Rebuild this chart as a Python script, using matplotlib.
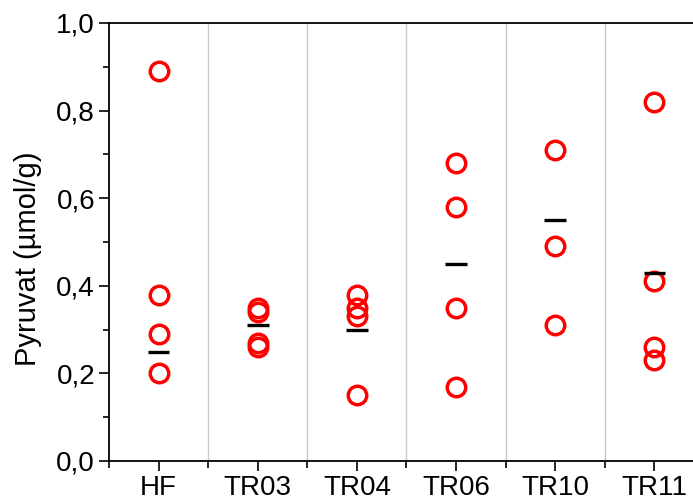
import matplotlib
matplotlib.use("Agg")
import matplotlib.pyplot as plt
from matplotlib.ticker import MultipleLocator, FuncFormatter

plt.rcParams['font.family'] = ['Liberation Sans', 'DejaVu Sans']

groups = ["HF", "TR03", "TR04", "TR06", "TR10", "TR11"]
values = [
    [0.89, 0.38, 0.29, 0.20],
    [0.35, 0.34, 0.27, 0.26],
    [0.38, 0.35, 0.33, 0.15],
    [0.68, 0.58, 0.35, 0.17],
    [0.71, 0.49, 0.31],
    [0.82, 0.41, 0.26, 0.23],
]
centers = [0.25, 0.31, 0.30, 0.45, 0.55, 0.43]

W, H = 693, 501
fig = plt.figure(figsize=(W / 100, H / 100), dpi=100)
left, right, top, bottom = 109, 704, 23, 461
ax = fig.add_axes([left / W, 1 - bottom / H, (right - left) / W, (bottom - top) / H])

n = len(groups)
for i, vals in enumerate(values):
    ax.plot([i] * len(vals), vals, linestyle='none', marker='o', ms=13.3,
            mfc='none', mec='#ff0000', mew=2.5, zorder=3)
ax.hlines(centers, [i - 0.11 for i in range(n)], [i + 0.11 for i in range(n)],
          colors='black', linewidth=2.4, zorder=4)

for b in range(n - 1):
    ax.axvline(b + 0.5, color='#c8c8c8', linewidth=1.0, zorder=1)

ax.set_xlim(-0.5, n - 0.5)
ax.set_ylim(0, 1.0)
ax.set_xticks(range(n))
ax.set_xticklabels(groups)
ax.set_xticks([b + 0.5 for b in range(-1, n)], minor=True)
ax.yaxis.set_major_locator(MultipleLocator(0.2))
ax.yaxis.set_minor_locator(MultipleLocator(0.1))
ax.yaxis.set_major_formatter(FuncFormatter(lambda v, p: f"{v:.1f}".replace('.', ',')))

ax.tick_params(axis='both', which='major', direction='out', length=7, width=1.2,
               labelsize=20, pad=3)
ax.tick_params(axis='both', which='minor', direction='out', length=4, width=1.2)
ax.tick_params(axis='x', which='minor', length=5)
for s in ax.spines.values():
    s.set_linewidth(1.3)

ax.set_ylabel("Pyruvat (µmol/g)", fontsize=21)
ax.yaxis.set_label_coords(-0.112, 0.462)

fig.savefig("out.png", dpi=100)
